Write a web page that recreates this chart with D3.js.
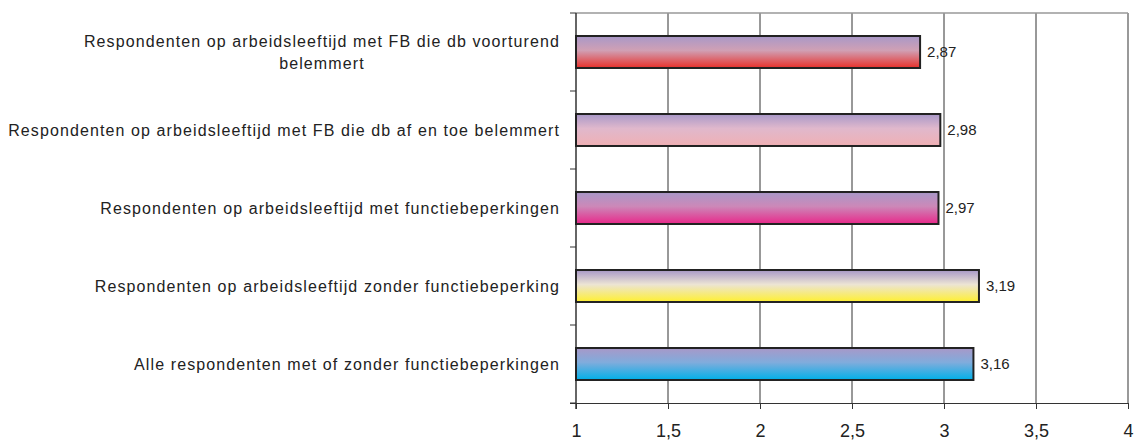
<!DOCTYPE html>
<html>
<head>
<meta charset="utf-8">
<script src="https://cdn.jsdelivr.net/npm/d3@7"></script>
<style>
  body { margin: 0; background: #fff; }
  text { font-family: "Liberation Sans", Arial, sans-serif; fill: #222; }
</style>
</head>
<body>
<svg width="1136" height="441"></svg>
<script>
var svg = d3.select('svg');

// data
const labels = [
    ["Respondenten op arbeidsleeftijd met FB die db voorturend", "belemmert"],
    ["Respondenten op arbeidsleeftijd met FB die db af en toe belemmert"],
    ["Respondenten op arbeidsleeftijd met functiebeperkingen"],
    ["Respondenten op arbeidsleeftijd zonder functiebeperking"],
    ["Alle respondenten met of zonder functiebeperkingen"]
];
const values = [2.87, 2.98, 2.97, 3.19, 3.16];
const valueLabels = ["2,87", "2,98", "2,97", "3,19", "3,16"];
const ticks = [1, 1.5, 2, 2.5, 3, 3.5, 4];
const tickLabels = ["1", "1,5", "2", "2,5", "3", "3,5", "4"];
const bottomColors = ["#e8302a", "#f0b0b4", "#e8288a", "#fff030", "#00b0e8"];
const midColors = ["#d0a0b4", "#e0b8cc", "#cc88b8", "#ece4d4", "#80acdc"];

// plot box
var plotLeft = 576, plotRight = 1128, plotTop = 13, plotBottom = 403;

var xScale = d3.scaleLinear().domain([1, 4]).range([plotLeft, plotRight]);
var yScale = d3.scaleBand()
    .domain(d3.range(values.length))
    .range([plotTop, plotBottom])
    .paddingInner(0.59)
    .paddingOuter(0.295);

// gradients
var defs = svg.append("defs");
values.forEach((v, i) => {
    var g = defs.append("linearGradient")
        .attr("id", "grad" + i)
        .attr("x1", 0).attr("y1", 0).attr("x2", 0).attr("y2", 1);
    g.append("stop").attr("offset", "0%").attr("stop-color", "#a898c8");
    g.append("stop").attr("offset", "45%").attr("stop-color", midColors[i]);
    g.append("stop").attr("offset", "100%").attr("stop-color", bottomColors[i]);
});

// gridlines
svg.append("g")
    .selectAll("line")
    .data(ticks.slice(1, -1))
    .enter().append("line")
    .attr("x1", d => xScale(d)).attr("x2", d => xScale(d))
    .attr("y1", plotTop).attr("y2", plotBottom)
    .style("stroke", "#333")
    .style("stroke-width", 1);

// plot border top / right
svg.append("line")
    .attr("x1", plotLeft).attr("x2", plotRight).attr("y1", plotTop).attr("y2", plotTop)
    .style("stroke", "#999").style("stroke-width", 1.5);
svg.append("line")
    .attr("x1", plotRight).attr("x2", plotRight).attr("y1", plotTop).attr("y2", plotBottom)
    .style("stroke", "#999").style("stroke-width", 2);

// x axis
var xAxis = d3.axisBottom(xScale)
    .tickValues(ticks)
    .tickFormat((d, i) => tickLabels[i])
    .tickSize(6)
    .tickPadding(15);

var gx = svg.append("g")
    .attr("transform", "translate(0," + plotBottom + ")")
    .call(xAxis);
gx.select(".domain").style("stroke", "#333").attr("d", "M" + (plotLeft - 6) + ",0.5H" + plotRight);
gx.selectAll(".tick line").style("stroke", "#333");
gx.selectAll(".tick text")
    .style("font-size", "18px")
    .style("font-family", "Liberation Sans, Arial, sans-serif")
    .style("fill", "#222");

// y axis line + ticks at band boundaries
svg.append("line")
    .attr("x1", plotLeft).attr("x2", plotLeft).attr("y1", plotTop).attr("y2", plotBottom + 6)
    .style("stroke", "#333").style("stroke-width", 1.5);
svg.append("g")
    .selectAll("line")
    .data(d3.range(values.length + 1))
    .enter().append("line")
    .attr("x1", plotLeft - 6).attr("x2", plotLeft)
    .attr("y1", i => plotTop + i * (plotBottom - plotTop) / values.length)
    .attr("y2", i => plotTop + i * (plotBottom - plotTop) / values.length)
    .style("stroke", "#333");

// bars
svg.append("g")
    .selectAll("rect")
    .data(values)
    .enter().append("rect")
    .attr("x", xScale(1))
    .attr("y", (d, i) => yScale(i))
    .attr("width", d => xScale(d) - xScale(1))
    .attr("height", yScale.bandwidth())
    .style("fill", (d, i) => "url(#grad" + i + ")")
    .style("stroke", "#222")
    .style("stroke-width", 2);

// value labels
svg.append("g")
    .selectAll("text")
    .data(values)
    .enter().append("text")
    .attr("x", d => xScale(d) + 7)
    .attr("y", (d, i) => yScale(i) + yScale.bandwidth() / 2)
    .attr("dy", "0.35em")
    .style("font-size", "15px")
    .text((d, i) => valueLabels[i]);

// category labels
var labelRight = 560;
labels.forEach((lines, i) => {
    var cy = yScale(i) + yScale.bandwidth() / 2;
    var t = svg.append("text")
        .style("font-size", "16px")
        .style("letter-spacing", "1.1px")
        .attr("text-anchor", "middle");
    var lineH = 22;
    lines.forEach((s, j) => {
        t.append("tspan")
            .attr("y", cy + (j - (lines.length - 1) / 2) * lineH)
            .attr("dy", "0.35em")
            .text(s);
    });
    var w = d3.max(t.selectAll("tspan").nodes(), n => n.getComputedTextLength());
    t.selectAll("tspan").attr("x", labelRight - w / 2);
});
</script>
</body>
</html>
